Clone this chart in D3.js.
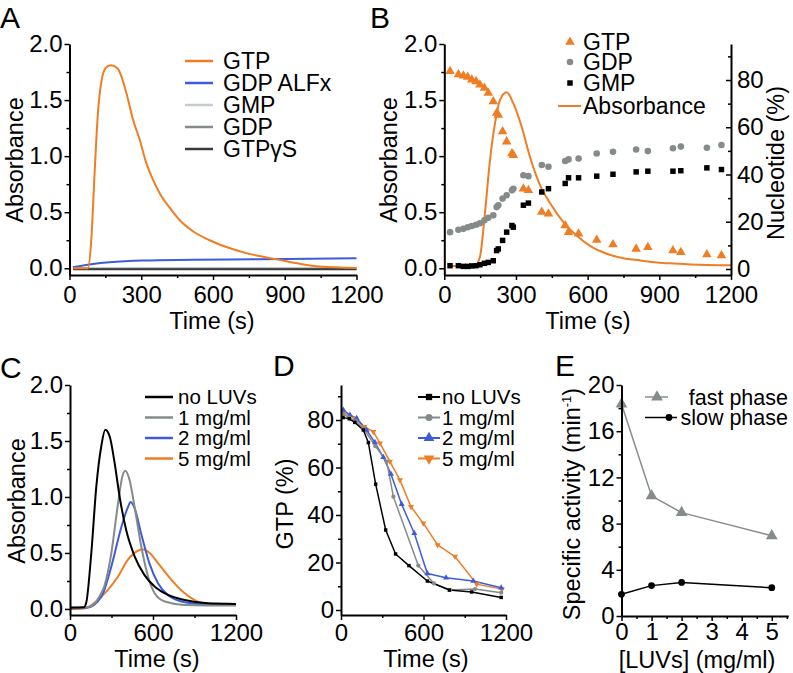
<!DOCTYPE html>
<html><head><meta charset="utf-8">
<script src="https://cdn.jsdelivr.net/npm/d3@7"></script>
<style>
body{margin:0;background:#fff;}
svg{display:block;}
</style></head><body>
<svg id="fig" width="793" height="673"></svg>
<script>
// ---------------- DATA ----------------
// Panel A (absorbance vs time)
const aGtpTime = [15, 77, 91, 105, 119, 133, 153, 174, 202, 237, 265, 293, 321, 349, 377, 419, 460, 516, 586, 656, 739, 823, 872, 963, 1046, 1200];
const aGtp     = [0, 0, 0.25, 0.85, 1.39, 1.66, 1.79, 1.81, 1.78, 1.57, 1.33, 1.15, 0.94, 0.79, 0.67, 0.54, 0.43, 0.33, 0.25, 0.19, 0.135, 0.097, 0.077, 0.040, 0.016, 0.003];
const aAlfTime = [14, 98, 167, 307, 516, 795, 1200];
const aAlf     = [0.01, 0.039, 0.054, 0.069, 0.075, 0.081, 0.09];
const aFlatTime = [15, 1200];
const aGmp     = [0.0, 0.0];
const aGdp     = [-0.004, -0.004];
const aGtpgs   = [-0.008, -0.008];
const aLegend  = ["GTP", "GDP ALFx", "GMP", "GDP", "GTPγS"];

// Panel B (nucleotide % and absorbance)
const bTime = [24, 59, 80, 98, 115, 133, 149, 168, 184, 205, 219, 226, 244, 261, 283, 289, 331, 352, 408, 436, 506, 520, 562, 638, 706, 803, 852, 957, 990, 1099, 1160];
const bGtp  = [83.7, 82.3, 81.8, 81.3, 80.1, 79.4, 78.0, 76.6, 74.5, 70.9, 66.0, 65.2, 58.2, 53.9, 48.9, 48.2, 34.0, 33.3, 24.1, 23.4, 18.4, 15.6, 14.9, 12.3, 10.4, 8.5, 9.2, 7.8, 7.1, 6.1, 5.7];
const bGdp  = [15.6, 16.6, 17.0, 17.7, 18.2, 18.7, 19.4, 20.6, 21.7, 22.7, 26.2, 27.0, 29.8, 31.2, 33.3, 34.0, 39.7, 39.3, 44.0, 43.3, 45.7, 46.4, 46.8, 48.9, 49.6, 50.6, 49.9, 51.1, 51.8, 51.3, 52.5];
const bGmp  = [1.4, 1.4, 1.1, 1.1, 1.3, 1.4, 1.8, 2.4, 2.8, 3.5, 7.8, 8.5, 12.1, 15.6, 18.4, 17.7, 27.0, 27.9, 32.6, 34.0, 36.2, 38.6, 38.6, 39.3, 40.1, 41.1, 41.4, 41.4, 41.6, 42.8, 42.1];
const bAbsTime = [20, 128, 149, 170, 191, 212, 233, 261, 289, 324, 359, 401, 443, 499, 555, 610, 680, 750, 820, 890, 960, 1030, 1200];
const bAbs     = [0.02, 0.02, 0.10, 0.49, 0.96, 1.29, 1.50, 1.57, 1.47, 1.26, 0.99, 0.74, 0.58, 0.41, 0.29, 0.20, 0.13, 0.09, 0.07, 0.052, 0.042, 0.034, 0.027];
const bLegend = ["GTP", "GDP", "GMP", "Absorbance"];

// Panel C (absorbance, LUV titration)
const cBlackTime = [0, 100, 118, 154, 190, 227, 255, 287, 323, 359, 407, 467, 540, 612, 708, 829, 998, 1200];
const cBlack     = [0.012, 0.015, 0.06, 0.50, 1.09, 1.46, 1.60, 1.54, 1.30, 1.00, 0.70, 0.47, 0.30, 0.20, 0.125, 0.08, 0.05, 0.045];
const cGrayTime  = [0, 130, 217, 250, 299, 347, 378, 400, 431, 467, 515, 564, 612, 685, 829, 1200];
const cGray      = [0.01, 0.015, 0.12, 0.21, 0.50, 0.94, 1.18, 1.235, 1.15, 0.91, 0.56, 0.29, 0.14, 0.066, 0.036, 0.03];
const cBlueTime  = [0, 120, 227, 299, 371, 419, 438, 467, 515, 576, 636, 708, 829, 1000, 1200];
const cBlue      = [0.005, 0.01, 0.11, 0.38, 0.73, 0.91, 0.955, 0.90, 0.67, 0.40, 0.23, 0.125, 0.06, 0.04, 0.035];
const cOrangeTime = [0, 100, 227, 347, 419, 491, 527, 576, 636, 733, 829, 925, 1022, 1200];
const cOrange     = [0.0, 0.005, 0.11, 0.29, 0.44, 0.52, 0.53, 0.50, 0.41, 0.26, 0.14, 0.066, 0.042, 0.035];
const luvLegend = ["no LUVs", "1 mg/ml", "2 mg/ml", "5 mg/ml"];

// Panel D (GTP %, LUV titration)
const dBlackTime = [15, 60, 100, 162, 199, 252, 325, 397, 494, 628, 788, 950, 1165];
const dBlack     = [81.0, 80.5, 79.0, 75.8, 70.5, 53.0, 33.7, 23.6, 18.7, 12.2, 8.4, 7.6, 5.3];
const dGrayTime  = [15, 60, 110, 162, 250, 332, 381, 562, 676, 793, 975, 1165];
const dGray      = [82.5, 81.0, 79.5, 76.5, 69.0, 62.5, 47.7, 18.7, 11.2, 8.4, 8.8, 7.3];
const dBlueTime  = [17, 65, 114, 186, 247, 308, 363, 441, 533, 628, 764, 962, 1165];
const dBlue      = [84.2, 82.1, 80.7, 75.8, 70.5, 64.3, 57.3, 44.5, 32.3, 15.4, 13.6, 12.2, 9.4];
const dOrangeTime = [17, 102, 170, 235, 284, 356, 429, 509, 599, 703, 829, 987, 1170];
const dOrange     = [83.1, 80.7, 77.2, 75.1, 70.2, 62.5, 54.7, 43.5, 36.5, 27.4, 22.5, 10.9, 8.8];

// Panel E (specific activity)
const eConc = [0, 1, 2, 5];
const eFast = [18.35, 10.4, 8.95, 6.95];
const eSlow = [1.88, 2.63, 2.91, 2.45];
const eLegend = ["fast phase", "slow phase"];

// Ticks
const timeTicks1 = [0, 300, 600, 900, 1200], timeMinor1 = [150, 450, 750, 1050];
const timeTicks2 = [0, 600, 1200], timeMinor2 = [300, 900];
const absTicks = [0, 0.5, 1, 1.5, 2], absMinor = [0.25, 0.75, 1.25, 1.75];
const pctTicks = [0, 20, 40, 60, 80], pctMinor = [10, 30, 50, 70, 90];
const concTicks = [0, 1, 2, 3, 4, 5], concMinor = [0.5, 1.5, 2.5, 3.5, 4.5, 5.5];
const actTicks = [0, 4, 8, 12, 16, 20], actMinor = [2, 6, 10, 14, 18];

// ---------------- STYLE ----------------
const FONT = '"Liberation Sans", Arial, Helvetica, sans-serif';
const ORANGE = "#ef7d24", BLUE = "#3e5bd8", LGRAY = "#c6cbcb", MGRAY = "#858b8b", DGRAY = "#3a3a3a", BLACK = "#000";
const TFS = 24, LFS = 23.5, GFS = 23, SFS = 20.5, PFS = 30;

const svg = d3.select("#fig").attr("font-family", FONT);

function drawAxis(orient, scale, majors, minors, fmt, pos, o) {
  const gen = orient === "bottom" ? d3.axisBottom : orient === "left" ? d3.axisLeft : d3.axisRight;
  const tMaj = o.inward ? -5 : 5, tMin = o.inward ? -3 : 3;
  const g = svg.append("g");
  const gm = g.append("g").attr("transform", pos)
    .call(gen(scale).tickValues(minors).tickSize(tMin).tickSizeOuter(0).tickFormat(""));
  gm.select(".domain").remove();
  const gM = g.append("g").attr("transform", pos)
    .call(gen(scale).tickValues(majors).tickSize(tMaj).tickSizeOuter(0).tickPadding(o.pad).tickFormat(fmt));
  g.selectAll("path.domain").attr("stroke", BLACK).attr("stroke-width", 2);
  g.selectAll(".tick line").attr("stroke", BLACK).attr("stroke-width", 1.5);
  g.selectAll("g").attr("font-family", FONT).attr("font-size", TFS);
  gM.selectAll("text").attr("fill", BLACK).attr("font-size", TFS).attr("font-family", FONT);
  return g;
}
function text(x, y, s, o = {}) {
  const t = svg.append("text").attr("x", x).attr("y", y).attr("font-size", o.fs || LFS)
    .attr("text-anchor", o.anchor || "start").attr("fill", BLACK).text(s);
  if (o.dy) t.attr("dy", o.dy);
  return t;
}
function vtext(x, y, s, fs) {
  return svg.append("text").attr("transform", `translate(${x},${y}) rotate(-90)`)
    .attr("text-anchor", "middle").attr("font-size", fs || LFS).attr("fill", BLACK).text(s);
}
function curve(x, y, ts, vs, color, w, c) {
  svg.append("path").datum(d3.zip(ts, vs))
    .attr("fill", "none").attr("stroke", color).attr("stroke-width", w)
    .attr("stroke-linejoin", "round")
    .attr("d", d3.line().x(d => x(d[0])).y(d => y(d[1])).curve(c || d3.curveMonotoneX));
}
function markers(x, y, ts, vs, type, size, color, rot) {
  svg.append("g").selectAll("path").data(d3.zip(ts, vs)).join("path")
    .attr("transform", d => `translate(${x(d[0])},${y(d[1])})${rot ? " rotate(180)" : ""}`)
    .attr("d", d3.symbol().type(type).size(size)).attr("fill", color);
}
function symAt(cx, cy, type, size, color, rot) {
  svg.append("path").attr("transform", `translate(${cx},${cy})${rot ? " rotate(180)" : ""}`)
    .attr("d", d3.symbol().type(type).size(size)).attr("fill", color);
}
function seg(x1, x2, y, color, w) {
  svg.append("line").attr("x1", x1).attr("x2", x2).attr("y1", y).attr("y2", y)
    .attr("stroke", color).attr("stroke-width", w);
}
const f1 = d3.format(".1f"), f0 = d3.format("d");

// ---------------- PANEL A ----------------
{
  const x = d3.scaleLinear([0, 1200], [69.5, 356.5]);
  const y = d3.scaleLinear([-0.06, 2], [275, 44]);
  curve(x, y, aFlatTime, aGmp, LGRAY, 2);
  curve(x, y, aFlatTime, aGdp, MGRAY, 2);
  curve(x, y, aFlatTime, aGtpgs, DGRAY, 2);
  curve(x, y, aAlfTime, aAlf, BLUE, 2);
  curve(x, y, aGtpTime, aGtp, ORANGE, 2);
  drawAxis("bottom", x, timeTicks1, timeMinor1, f0, "translate(0,275)", { pad: 6 });
  drawAxis("left", y, absTicks, absMinor, f1, "translate(69.5,0)", { pad: 2 });
  text(212, 329, "Time (s)", { anchor: "middle" });
  vtext(23, 160, "Absorbance");
  text(0, 28, "A", { fs: PFS });
  const cols = [ORANGE, BLUE, LGRAY, MGRAY, DGRAY];
  const rows = [61, 83, 105, 127, 149];
  aLegend.forEach((s, i) => { seg(185, 213, rows[i], cols[i], 2.5); text(223, rows[i], s, { dy: "0.35em", fs: GFS }); });
}

// ---------------- PANEL B ----------------
{
  const x = d3.scaleLinear([0, 1200], [444.3, 731]);
  const y = d3.scaleLinear([-0.06, 2], [275, 44]);
  const yr = d3.scaleLinear([-2.54, 95.24], [275, 44]);
  curve(x, y, bAbsTime, bAbs, ORANGE, 2);
  markers(x, yr, bTime, bGdp, d3.symbolCircle, 34, MGRAY);
  markers(x, yr, bTime, bGmp, d3.symbolSquare, 30, BLACK);
  markers(x, yr, bTime, bGtp, d3.symbolTriangle, 40, ORANGE);
  drawAxis("bottom", x, timeTicks1, timeMinor1, f0, "translate(0,275)", { pad: 6 });
  drawAxis("left", y, absTicks, absMinor, f1, "translate(444.3,0)", { pad: 2 });
  drawAxis("right", yr, pctTicks, pctMinor, f0, "translate(731,0)", { pad: 6, inward: true });
  text(588, 329, "Time (s)", { anchor: "middle" });
  vtext(397, 160, "Absorbance");
  vtext(784, 163, "Nucleotide (%)");
  text(370, 28, "B", { fs: PFS });
  const rows = [42, 62, 83, 106];
  symAt(570, rows[0], d3.symbolTriangle, 40, ORANGE);
  symAt(570, rows[1], d3.symbolCircle, 34, MGRAY);
  symAt(570, rows[2], d3.symbolSquare, 30, BLACK);
  seg(558, 581, rows[3], ORANGE, 2);
  bLegend.forEach((s, i) => text(583, rows[i], s, { dy: "0.35em", fs: GFS }));
}

// ---------------- PANEL C ----------------
{
  const x = d3.scaleLinear([0, 1200], [70, 236]);
  const y = d3.scaleLinear([-0.054, 2], [615, 385]);
  curve(x, y, cOrangeTime, cOrange, ORANGE, 2);
  curve(x, y, cBlueTime, cBlue, BLUE, 2);
  curve(x, y, cGrayTime, cGray, MGRAY, 2);
  curve(x, y, cBlackTime, cBlack, BLACK, 2);
  drawAxis("bottom", x, timeTicks2, timeMinor2, f0, "translate(0,615)", { pad: 4 });
  drawAxis("left", y, absTicks, absMinor, f1, "translate(70,0)", { pad: 2 });
  text(157, 667, "Time (s)", { anchor: "middle" });
  vtext(25, 501, "Absorbance");
  text(0, 378, "C", { fs: PFS });
  const cols = [BLACK, MGRAY, BLUE, ORANGE];
  const rows = [397, 417.5, 438, 458.5];
  luvLegend.forEach((s, i) => { seg(145, 173, rows[i], cols[i], 2.5); text(178, rows[i], s, { dy: "0.35em", fs: SFS }); });
}

// ---------------- PANEL D ----------------
{
  const x = d3.scaleLinear([0, 1200], [341, 506]);
  const y = d3.scaleLinear([-2.1, 94.74], [615, 385]);
  const L = d3.curveLinear;
  curve(x, y, dOrangeTime, dOrange, ORANGE, 1.5, L);
  curve(x, y, dBlueTime, dBlue, BLUE, 1.5, L);
  curve(x, y, dGrayTime, dGray, MGRAY, 1.5, L);
  curve(x, y, dBlackTime, dBlack, BLACK, 1.5, L);
  markers(x, y, dOrangeTime, dOrange, d3.symbolTriangle, 16, ORANGE, true);
  markers(x, y, dBlueTime, dBlue, d3.symbolTriangle, 16, BLUE);
  markers(x, y, dGrayTime, dGray, d3.symbolCircle, 14, MGRAY);
  markers(x, y, dBlackTime, dBlack, d3.symbolSquare, 12, BLACK);
  drawAxis("bottom", x, timeTicks2, timeMinor2, f0, "translate(0,615)", { pad: 4 });
  drawAxis("left", y, pctTicks, pctMinor, f0, "translate(341,0)", { pad: 2 });
  text(426, 667, "Time (s)", { anchor: "middle" });
  vtext(293, 504, "GTP (%)");
  text(273, 376, "D", { fs: PFS });
  const cols = [BLACK, MGRAY, BLUE, ORANGE];
  const types = [d3.symbolSquare, d3.symbolCircle, d3.symbolTriangle, d3.symbolTriangle];
  const sizes = [40, 40, 50, 50];
  const rows = [397, 417.5, 438, 458.5];
  luvLegend.forEach((s, i) => {
    seg(418, 440, rows[i], cols[i], 2);
    symAt(429, rows[i], types[i], sizes[i], cols[i], i === 3);
    text(442, rows[i], s, { dy: "0.35em", fs: SFS });
  });
}

// ---------------- PANEL E ----------------
{
  const x = d3.scaleLinear([0, 5.55], [621.5, 788.3]);
  const y = d3.scaleLinear([0, 20], [616, 385]);
  const L = d3.curveLinear;
  curve(x, y, eConc, eFast, MGRAY, 1.5, L);
  curve(x, y, eConc, eSlow, BLACK, 1.5, L);
  markers(x, y, eConc, eFast, d3.symbolTriangle, 60, MGRAY);
  markers(x, y, eConc, eSlow, d3.symbolCircle, 36, BLACK);
  drawAxis("bottom", x, concTicks, concMinor, f0, "translate(0,616)", { pad: 2 });
  drawAxis("left", y, actTicks, actMinor, f0, "translate(621.5,0)", { pad: 2 });
  text(697, 668, "[LUVs] (mg/ml)", { anchor: "middle" });
  const t = svg.append("text").attr("transform", "translate(580,504) rotate(-90)")
    .attr("text-anchor", "middle").attr("font-size", LFS).attr("fill", BLACK);
  t.append("tspan").text("Specific activity (min");
  t.append("tspan").attr("font-size", 13).attr("dy", -9).text("-1");
  t.append("tspan").attr("dy", 9).text(")");
  text(555, 376, "E", { fs: PFS });
  const rows = [397, 417.5];
  seg(645, 668, rows[0], MGRAY, 1.5); symAt(657, rows[0], d3.symbolTriangle, 60, MGRAY);
  seg(645, 677, rows[1], BLACK, 1.5); symAt(669, rows[1], d3.symbolCircle, 36, BLACK);
  eLegend.forEach((s, i) => text(788, rows[i], s, { dy: "0.35em", anchor: "end", fs: 21.5 }));
}
</script>
</body></html>
